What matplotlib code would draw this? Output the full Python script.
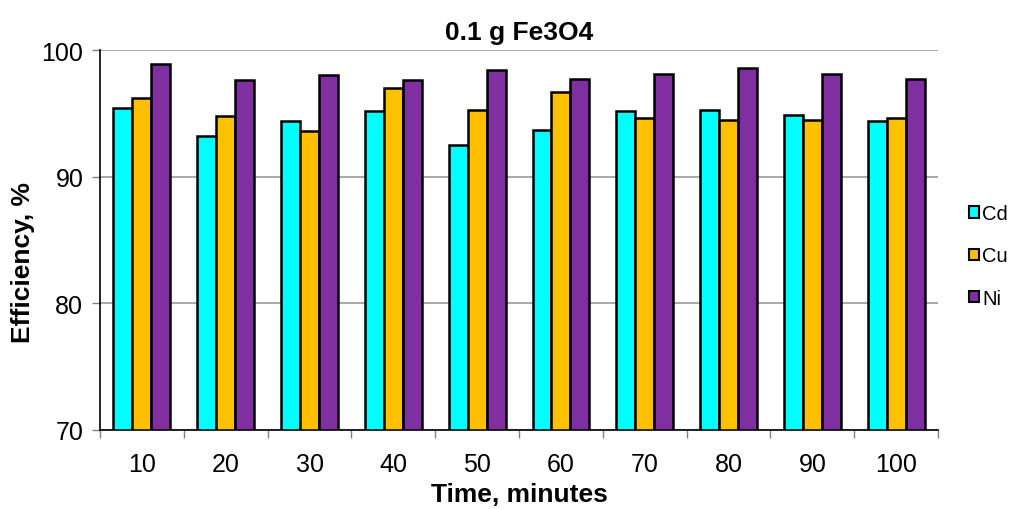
import numpy as np
import matplotlib
matplotlib.use('Agg')
from matplotlib import pyplot as plt

### Data
times = ['10', '20', '30', '40', '50', '60', '70', '80', '90', '100']
cd = [95.4, 93.2, 94.4, 95.2, 92.5, 93.7, 95.2, 95.3, 94.9, 94.4]
cu = [96.2, 94.8, 93.6, 97.0, 95.3, 96.7, 94.6, 94.5, 94.5, 94.6]
ni = [98.9, 97.6, 98.0, 97.6, 98.4, 97.7, 98.1, 98.6, 98.1, 97.7]
series = [('Cd', cd, '#00FFFF'), ('Cu', cu, '#FFC000'), ('Ni', ni, '#7F2F9F')]

plt.rcParams['font.family'] = ['Liberation Sans', 'DejaVu Sans']

fig = plt.figure(figsize=(10.11, 5.10), dpi=100)
ax = fig.add_axes([0.0989, 0.155, 0.829, 0.745])

x = np.arange(len(times))
w = 0.226
for k, (name, vals, col) in enumerate(series):
    ax.bar(x + (k - 1) * w, np.array(vals) - 70, bottom=70, width=w, color=col,
           edgecolor='black', linewidth=1.8, label=name, zorder=3)

ax.set_xlim(-0.5, len(times) - 0.5)
ax.set_ylim(70, 100)
ax.set_yticks([70, 80, 90, 100])
ax.yaxis.grid(True, color='#999999', linewidth=1.2, zorder=0)
ax.set_axisbelow(True)

# category labels centred, ticks between groups
ax.set_xticks(x)
ax.set_xticklabels(times, fontsize=18)
ax.set_xticks(np.arange(len(times) + 1) - 0.5, minor=True)
ax.tick_params(axis='x', which='major', length=0, pad=16)
ax.tick_params(axis='x', which='minor', length=6, width=1, color='#808080')
ax.tick_params(axis='y', length=6, width=1, color='#808080', labelsize=18, pad=6)

for s in ['top', 'right']:
    ax.spines[s].set_visible(False)
ax.spines['left'].set_linewidth(1.2)
ax.spines['bottom'].set_linewidth(1.2)

ax.set_title('0.1 g Fe3O4', fontsize=19, fontweight='bold', pad=8)
ax.set_xlabel('Time, minutes', fontsize=19, fontweight='bold', labelpad=4)
ax.set_ylabel('Efficiency, %', fontsize=19, fontweight='bold')
ax.yaxis.set_label_coords(-0.078, 0.444)

leg = ax.legend(loc='center left', bbox_to_anchor=(1.027, 0.458), frameon=False,
                borderaxespad=0, fontsize=14.5, handlelength=0.5, handleheight=0.5,
                handletextpad=0.15, labelspacing=1.15)
for h in leg.legend_handles:
    h.set_linewidth(1.5)

plt.savefig('out.png', dpi=100)
